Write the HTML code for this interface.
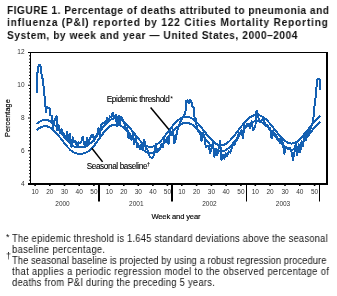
<!DOCTYPE html>
<html><head><meta charset="utf-8">
<style>
html,body{margin:0;padding:0;background:#fff;}
body{width:337px;height:296px;position:relative;overflow:hidden;font-family:"Liberation Sans",sans-serif;color:#000;}
.t{position:absolute;left:7px;width:320px;font-weight:bold;font-size:11px;line-height:12px;white-space:nowrap;color:#111;}
.j{text-align:justify;text-align-last:justify;white-space:normal;}
.f{position:absolute;left:12px;width:400px;font-size:10px;line-height:11px;white-space:nowrap;color:#111;}
.s{position:absolute;font-size:7px;line-height:7px;color:#111;}
svg{position:absolute;left:0;top:0;}
.t,.f,.s,svg{will-change:transform;}
</style></head><body>
<div class="t" style="top:4px;transform:scaleX(0.92);transform-origin:0 0;letter-spacing:0.53px">FIGURE 1. Percentage of deaths attributed to pneumonia and</div>
<div class="t" style="top:16px;transform:scaleX(0.92);transform-origin:0 0;letter-spacing:0.885px">influenza (P&amp;I) reported by 122 Cities Mortality Reporting</div>
<div class="t" style="top:29px;transform:scaleX(0.92);transform-origin:0 0;letter-spacing:0.615px">System, by week and year — United States, 2000–2004</div>
<svg width="337" height="296" viewBox="0 0 337 296">
<g font-family="Liberation Sans, sans-serif" font-size="6.5" fill="#333"><text x="24.5" y="186.1" text-anchor="end">4</text><text x="24.5" y="153.2" text-anchor="end">6</text><text x="24.5" y="120.2" text-anchor="end">8</text><text x="24.5" y="87.2" text-anchor="end">10</text><text x="24.5" y="54.3" text-anchor="end">12</text><text x="35.1" y="193.5" text-anchor="middle">10</text><text x="49.8" y="193.5" text-anchor="middle">20</text><text x="64.5" y="193.5" text-anchor="middle">30</text><text x="79.2" y="193.5" text-anchor="middle">40</text><text x="93.9" y="193.5" text-anchor="middle">50</text><text x="62.5" y="206" text-anchor="middle">2000</text><text x="109.3" y="193.5" text-anchor="middle">10</text><text x="123.8" y="193.5" text-anchor="middle">20</text><text x="138.3" y="193.5" text-anchor="middle">30</text><text x="152.9" y="193.5" text-anchor="middle">40</text><text x="167.4" y="193.5" text-anchor="middle">50</text><text x="136.3" y="206" text-anchor="middle">2001</text><text x="181.8" y="193.5" text-anchor="middle">10</text><text x="196.6" y="193.5" text-anchor="middle">20</text><text x="211.4" y="193.5" text-anchor="middle">30</text><text x="226.1" y="193.5" text-anchor="middle">40</text><text x="240.9" y="193.5" text-anchor="middle">50</text><text x="209.4" y="206" text-anchor="middle">2002</text><text x="255.3" y="193.5" text-anchor="middle">10</text><text x="270.1" y="193.5" text-anchor="middle">20</text><text x="285.0" y="193.5" text-anchor="middle">30</text><text x="299.8" y="193.5" text-anchor="middle">40</text><text x="314.6" y="193.5" text-anchor="middle">50</text><text x="283.0" y="206" text-anchor="middle">2003</text></g>
<line x1="28" y1="52.5" x2="328" y2="52.5" stroke="#000" stroke-width="1"/><line x1="327" y1="52" x2="327" y2="185" stroke="#000" stroke-width="2"/><line x1="28" y1="184" x2="328" y2="184" stroke="#000" stroke-width="2"/><line x1="30.5" y1="52" x2="30.5" y2="185" stroke="#000" stroke-width="1"/><line x1="28" y1="183.50" x2="30" y2="183.50" stroke="#000" stroke-width="1"/><line x1="29" y1="180.22" x2="30" y2="180.22" stroke="#000" stroke-width="1"/><line x1="29" y1="176.95" x2="30" y2="176.95" stroke="#000" stroke-width="1"/><line x1="29" y1="173.68" x2="30" y2="173.68" stroke="#000" stroke-width="1"/><line x1="29" y1="170.40" x2="30" y2="170.40" stroke="#000" stroke-width="1"/><line x1="29" y1="167.12" x2="30" y2="167.12" stroke="#000" stroke-width="1"/><line x1="29" y1="163.85" x2="30" y2="163.85" stroke="#000" stroke-width="1"/><line x1="29" y1="160.57" x2="30" y2="160.57" stroke="#000" stroke-width="1"/><line x1="29" y1="157.30" x2="30" y2="157.30" stroke="#000" stroke-width="1"/><line x1="29" y1="154.03" x2="30" y2="154.03" stroke="#000" stroke-width="1"/><line x1="28" y1="150.75" x2="30" y2="150.75" stroke="#000" stroke-width="1"/><line x1="29" y1="147.47" x2="30" y2="147.47" stroke="#000" stroke-width="1"/><line x1="29" y1="144.20" x2="30" y2="144.20" stroke="#000" stroke-width="1"/><line x1="29" y1="140.93" x2="30" y2="140.93" stroke="#000" stroke-width="1"/><line x1="29" y1="137.65" x2="30" y2="137.65" stroke="#000" stroke-width="1"/><line x1="29" y1="134.38" x2="30" y2="134.38" stroke="#000" stroke-width="1"/><line x1="29" y1="131.10" x2="30" y2="131.10" stroke="#000" stroke-width="1"/><line x1="29" y1="127.82" x2="30" y2="127.82" stroke="#000" stroke-width="1"/><line x1="29" y1="124.55" x2="30" y2="124.55" stroke="#000" stroke-width="1"/><line x1="29" y1="121.27" x2="30" y2="121.27" stroke="#000" stroke-width="1"/><line x1="28" y1="118.00" x2="30" y2="118.00" stroke="#000" stroke-width="1"/><line x1="29" y1="114.73" x2="30" y2="114.73" stroke="#000" stroke-width="1"/><line x1="29" y1="111.45" x2="30" y2="111.45" stroke="#000" stroke-width="1"/><line x1="29" y1="108.17" x2="30" y2="108.17" stroke="#000" stroke-width="1"/><line x1="29" y1="104.90" x2="30" y2="104.90" stroke="#000" stroke-width="1"/><line x1="29" y1="101.62" x2="30" y2="101.62" stroke="#000" stroke-width="1"/><line x1="29" y1="98.35" x2="30" y2="98.35" stroke="#000" stroke-width="1"/><line x1="29" y1="95.07" x2="30" y2="95.07" stroke="#000" stroke-width="1"/><line x1="29" y1="91.80" x2="30" y2="91.80" stroke="#000" stroke-width="1"/><line x1="29" y1="88.52" x2="30" y2="88.52" stroke="#000" stroke-width="1"/><line x1="28" y1="85.25" x2="30" y2="85.25" stroke="#000" stroke-width="1"/><line x1="29" y1="81.98" x2="30" y2="81.98" stroke="#000" stroke-width="1"/><line x1="29" y1="78.70" x2="30" y2="78.70" stroke="#000" stroke-width="1"/><line x1="29" y1="75.42" x2="30" y2="75.42" stroke="#000" stroke-width="1"/><line x1="29" y1="72.15" x2="30" y2="72.15" stroke="#000" stroke-width="1"/><line x1="29" y1="68.88" x2="30" y2="68.88" stroke="#000" stroke-width="1"/><line x1="29" y1="65.60" x2="30" y2="65.60" stroke="#000" stroke-width="1"/><line x1="29" y1="62.32" x2="30" y2="62.32" stroke="#000" stroke-width="1"/><line x1="29" y1="59.05" x2="30" y2="59.05" stroke="#000" stroke-width="1"/><line x1="29" y1="55.77" x2="30" y2="55.77" stroke="#000" stroke-width="1"/><line x1="28" y1="52.50" x2="30" y2="52.50" stroke="#000" stroke-width="1"/><line x1="35.1" y1="185" x2="35.1" y2="186" stroke="#000" stroke-width="1.6"/><line x1="49.8" y1="185" x2="49.8" y2="186" stroke="#000" stroke-width="1.6"/><line x1="64.5" y1="185" x2="64.5" y2="186" stroke="#000" stroke-width="1.6"/><line x1="79.2" y1="185" x2="79.2" y2="186" stroke="#000" stroke-width="1.6"/><line x1="93.9" y1="185" x2="93.9" y2="186" stroke="#000" stroke-width="1.6"/><line x1="109.3" y1="185" x2="109.3" y2="186" stroke="#000" stroke-width="1.6"/><line x1="123.8" y1="185" x2="123.8" y2="186" stroke="#000" stroke-width="1.6"/><line x1="138.3" y1="185" x2="138.3" y2="186" stroke="#000" stroke-width="1.6"/><line x1="152.9" y1="185" x2="152.9" y2="186" stroke="#000" stroke-width="1.6"/><line x1="167.4" y1="185" x2="167.4" y2="186" stroke="#000" stroke-width="1.6"/><line x1="181.8" y1="185" x2="181.8" y2="186" stroke="#000" stroke-width="1.6"/><line x1="196.6" y1="185" x2="196.6" y2="186" stroke="#000" stroke-width="1.6"/><line x1="211.4" y1="185" x2="211.4" y2="186" stroke="#000" stroke-width="1.6"/><line x1="226.1" y1="185" x2="226.1" y2="186" stroke="#000" stroke-width="1.6"/><line x1="240.9" y1="185" x2="240.9" y2="186" stroke="#000" stroke-width="1.6"/><line x1="255.3" y1="185" x2="255.3" y2="186" stroke="#000" stroke-width="1.6"/><line x1="270.1" y1="185" x2="270.1" y2="186" stroke="#000" stroke-width="1.6"/><line x1="285.0" y1="185" x2="285.0" y2="186" stroke="#000" stroke-width="1.6"/><line x1="299.8" y1="185" x2="299.8" y2="186" stroke="#000" stroke-width="1.6"/><line x1="314.6" y1="185" x2="314.6" y2="186" stroke="#000" stroke-width="1.6"/><line x1="99" y1="184" x2="99" y2="201.5" stroke="#000" stroke-width="2"/><line x1="172" y1="184" x2="172" y2="201.5" stroke="#000" stroke-width="2"/><line x1="246.5" y1="184" x2="246.5" y2="201.5" stroke="#000" stroke-width="1"/><line x1="319.5" y1="184" x2="319.5" y2="201.5" stroke="#000" stroke-width="1"/>
<g fill="none" stroke="#1460b2" stroke-width="2" stroke-linejoin="round" stroke-linecap="butt" shape-rendering="crispEdges">
<path d="M36.4,124.1 L37.4,123.2 L38.4,122.5 L39.4,121.8 L40.4,121.3 L41.4,120.8 L42.4,120.4 L43.4,120.2 L44.4,120.0 L45.4,120.0 L46.4,120.1 L47.4,120.3 L48.4,120.5 L49.4,120.9 L50.4,121.5 L51.4,122.2 L52.4,123.0 L53.4,123.9 L54.4,124.9 L55.4,125.9 L56.4,127.0 L57.4,128.2 L58.4,129.3 L59.4,130.6 L60.4,131.8 L61.4,133.1 L62.4,134.4 L63.4,135.7 L64.4,137.0 L65.4,138.2 L66.4,139.4 L67.4,140.6 L68.4,141.7 L69.4,142.8 L70.4,143.8 L71.4,144.7 L72.4,145.5 L73.4,146.1 L74.4,146.6 L75.4,146.9 L76.4,147.2 L77.4,147.4 L78.4,147.4 L79.4,147.3 L80.4,147.3 L81.4,147.4 L82.4,147.4 L83.4,147.3 L84.4,147.0 L85.4,146.7 L86.4,146.2 L87.4,145.6 L88.4,145.0 L89.4,144.1 L90.4,143.3 L91.4,142.3 L92.4,141.3 L93.4,140.2 L94.4,139.1 L95.4,137.8 L96.4,136.4 L97.4,135.0 L98.4,133.6 L99.4,132.1 L100.4,130.8 L101.4,129.4 L102.4,128.1 L103.4,126.8 L104.4,125.6 L105.4,124.4 L106.4,123.3 L107.4,122.3 L108.4,121.4 L109.4,120.5 L110.4,119.8 L111.4,119.3 L112.4,118.9 L113.4,118.6 L114.4,118.4 L115.4,118.3 L116.4,118.3 L117.4,118.5 L118.4,118.7 L119.4,119.0 L120.4,119.5 L121.4,120.0 L122.4,120.7 L123.4,121.4 L124.4,122.2 L125.4,123.1 L126.4,124.1 L127.4,125.2 L128.4,126.3 L129.4,127.4 L130.4,128.7 L131.4,129.9 L132.4,131.2 L133.4,132.5 L134.4,133.7 L135.4,135.0 L136.4,136.3 L137.4,137.5 L138.4,138.7 L139.4,139.9 L140.4,141.0 L141.4,142.0 L142.4,143.0 L143.4,143.8 L144.4,144.6 L145.4,145.3 L146.4,145.8 L147.4,146.3 L148.4,146.6 L149.4,146.8 L150.4,146.9 L151.4,146.9 L152.4,146.7 L153.4,146.4 L154.4,146.0 L155.4,145.5 L156.4,144.8 L157.4,144.1 L158.4,143.2 L159.4,142.3 L160.4,141.3 L161.4,140.2 L162.4,139.0 L163.4,137.8 L164.4,136.5 L165.4,135.2 L166.4,133.9 L167.4,132.6 L168.4,131.2 L169.4,129.9 L170.4,128.6 L171.4,127.3 L172.4,126.1 L173.4,124.9 L174.4,123.7 L175.4,122.6 L176.4,121.6 L177.4,120.7 L178.4,119.9 L179.4,119.1 L180.4,118.4 L181.4,117.9 L182.4,117.4 L183.4,117.0 L184.4,116.8 L185.4,116.7 L186.4,116.6 L187.4,116.7 L188.4,116.9 L189.4,117.2 L190.4,117.6 L191.4,118.1 L192.4,118.6 L193.4,119.3 L194.4,120.1 L195.4,121.0 L196.4,121.9 L197.4,122.9 L198.4,124.0 L199.4,125.2 L200.4,126.4 L201.4,127.6 L202.4,128.8 L203.4,130.1 L204.4,131.4 L205.4,132.7 L206.4,134.0 L207.4,135.2 L208.4,136.5 L209.4,137.6 L210.4,138.8 L211.4,139.8 L212.4,140.8 L213.4,141.7 L214.4,142.6 L215.4,143.3 L216.4,143.9 L217.4,144.4 L218.4,144.8 L219.4,145.0 L220.4,145.2 L221.4,145.2 L222.4,145.1 L223.4,144.9 L224.4,144.5 L225.4,144.0 L226.4,143.5 L227.4,142.8 L228.4,142.0 L229.4,141.1 L230.4,140.1 L231.4,139.0 L232.4,137.9 L233.4,136.7 L234.4,135.5 L235.4,134.2 L236.4,132.9 L237.4,131.5 L238.4,130.2 L239.4,128.9 L240.4,127.5 L241.4,126.2 L242.4,125.0 L243.4,123.8 L244.4,122.6 L245.4,121.5 L246.4,120.4 L247.4,119.5 L248.4,118.6 L249.4,117.8 L250.4,117.1 L251.4,116.4 L252.4,115.9 L253.4,115.5 L254.4,115.2 L255.4,115.0 L256.4,114.9 L257.4,114.9 L258.4,115.1 L259.4,115.3 L260.4,115.7 L261.4,116.1 L262.4,116.6 L263.4,117.3 L264.4,118.0 L265.4,118.8 L266.4,119.8 L267.4,120.7 L268.4,121.8 L269.4,122.9 L270.4,124.1 L271.4,125.3 L272.4,126.5 L273.4,127.8 L274.4,129.1 L275.4,130.4 L276.4,131.7 L277.4,132.9 L278.4,134.2 L279.4,135.4 L280.4,136.5 L281.4,137.6 L282.4,138.6 L283.4,139.6 L284.4,140.5 L285.4,141.2 L286.4,141.9 L287.4,142.5 L288.4,142.9 L289.4,143.2 L290.4,143.4 L291.4,143.5 L292.4,143.5 L293.4,143.3 L294.4,143.0 L295.4,142.6 L296.4,142.1 L297.4,141.4 L298.4,140.7 L299.4,139.8 L300.4,138.9 L301.4,137.9 L302.4,136.8 L303.4,135.6 L304.4,134.4 L305.4,133.1 L306.4,131.8 L307.4,130.5 L308.4,129.2 L309.4,127.8 L310.4,126.5 L311.4,125.2 L312.4,123.9 L313.4,122.7 L314.4,121.5 L315.4,120.3 L316.4,119.3 L317.4,118.2 L318.4,117.3 L319.4,116.5 L320.4,115.7"/>
<path d="M36.4,130.3 L37.4,129.4 L38.4,128.7 L39.4,128.0 L40.4,127.5 L41.4,127.0 L42.4,126.6 L43.4,126.4 L44.4,126.2 L45.4,126.2 L46.4,126.3 L47.4,126.5 L48.4,126.7 L49.4,127.1 L50.4,127.7 L51.4,128.4 L52.4,129.2 L53.4,130.1 L54.4,131.1 L55.4,132.1 L56.4,133.2 L57.4,134.4 L58.4,135.5 L59.4,136.8 L60.4,138.0 L61.4,139.3 L62.4,140.6 L63.4,141.9 L64.4,143.2 L65.4,144.4 L66.4,145.6 L67.4,146.8 L68.4,147.9 L69.4,149.0 L70.4,150.0 L71.4,150.9 L72.4,151.7 L73.4,152.3 L74.4,152.8 L75.4,153.1 L76.4,153.4 L77.4,153.6 L78.4,153.6 L79.4,153.5 L80.4,153.5 L81.4,153.6 L82.4,153.6 L83.4,153.5 L84.4,153.2 L85.4,152.9 L86.4,152.4 L87.4,151.8 L88.4,151.2 L89.4,150.3 L90.4,149.5 L91.4,148.5 L92.4,147.5 L93.4,146.4 L94.4,145.3 L95.4,144.0 L96.4,142.6 L97.4,141.2 L98.4,139.8 L99.4,138.3 L100.4,137.0 L101.4,135.6 L102.4,134.3 L103.4,133.0 L104.4,131.8 L105.4,130.6 L106.4,129.5 L107.4,128.5 L108.4,127.6 L109.4,126.7 L110.4,126.0 L111.4,125.5 L112.4,125.1 L113.4,124.8 L114.4,124.6 L115.4,124.5 L116.4,124.5 L117.4,124.7 L118.4,124.9 L119.4,125.2 L120.4,125.7 L121.4,126.2 L122.4,126.9 L123.4,127.6 L124.4,128.4 L125.4,129.3 L126.4,130.3 L127.4,131.4 L128.4,132.5 L129.4,133.6 L130.4,134.9 L131.4,136.1 L132.4,137.4 L133.4,138.7 L134.4,139.9 L135.4,141.2 L136.4,142.5 L137.4,143.7 L138.4,144.9 L139.4,146.1 L140.4,147.2 L141.4,148.2 L142.4,149.2 L143.4,150.0 L144.4,150.8 L145.4,151.5 L146.4,152.0 L147.4,152.5 L148.4,152.8 L149.4,153.0 L150.4,153.1 L151.4,153.1 L152.4,152.9 L153.4,152.6 L154.4,152.2 L155.4,151.7 L156.4,151.0 L157.4,150.3 L158.4,149.4 L159.4,148.5 L160.4,147.5 L161.4,146.4 L162.4,145.2 L163.4,144.0 L164.4,142.7 L165.4,141.4 L166.4,140.1 L167.4,138.8 L168.4,137.4 L169.4,136.1 L170.4,134.8 L171.4,133.5 L172.4,132.3 L173.4,131.1 L174.4,129.9 L175.4,128.8 L176.4,127.8 L177.4,126.9 L178.4,126.1 L179.4,125.3 L180.4,124.6 L181.4,124.1 L182.4,123.6 L183.4,123.2 L184.4,123.0 L185.4,122.9 L186.4,122.8 L187.4,122.9 L188.4,123.1 L189.4,123.4 L190.4,123.8 L191.4,124.3 L192.4,124.8 L193.4,125.5 L194.4,126.3 L195.4,127.2 L196.4,128.1 L197.4,129.1 L198.4,130.2 L199.4,131.4 L200.4,132.6 L201.4,133.8 L202.4,135.0 L203.4,136.3 L204.4,137.6 L205.4,138.9 L206.4,140.2 L207.4,141.4 L208.4,142.7 L209.4,143.8 L210.4,145.0 L211.4,146.0 L212.4,147.0 L213.4,147.9 L214.4,148.8 L215.4,149.5 L216.4,150.1 L217.4,150.6 L218.4,151.0 L219.4,151.2 L220.4,151.4 L221.4,151.4 L222.4,151.3 L223.4,151.1 L224.4,150.7 L225.4,150.2 L226.4,149.7 L227.4,149.0 L228.4,148.2 L229.4,147.3 L230.4,146.3 L231.4,145.2 L232.4,144.1 L233.4,142.9 L234.4,141.7 L235.4,140.4 L236.4,139.1 L237.4,137.7 L238.4,136.4 L239.4,135.1 L240.4,133.7 L241.4,132.4 L242.4,131.2 L243.4,130.0 L244.4,128.8 L245.4,127.7 L246.4,126.6 L247.4,125.7 L248.4,124.8 L249.4,124.0 L250.4,123.3 L251.4,122.6 L252.4,122.1 L253.4,121.7 L254.4,121.4 L255.4,121.2 L256.4,121.1 L257.4,121.1 L258.4,121.3 L259.4,121.5 L260.4,121.9 L261.4,122.3 L262.4,122.8 L263.4,123.5 L264.4,124.2 L265.4,125.0 L266.4,126.0 L267.4,126.9 L268.4,128.0 L269.4,129.1 L270.4,130.3 L271.4,131.5 L272.4,132.7 L273.4,134.0 L274.4,135.3 L275.4,136.6 L276.4,137.9 L277.4,139.1 L278.4,140.4 L279.4,141.6 L280.4,142.7 L281.4,143.8 L282.4,144.8 L283.4,145.8 L284.4,146.7 L285.4,147.4 L286.4,148.1 L287.4,148.7 L288.4,149.1 L289.4,149.4 L290.4,149.6 L291.4,149.7 L292.4,149.7 L293.4,149.5 L294.4,149.2 L295.4,148.8 L296.4,148.3 L297.4,147.6 L298.4,146.9 L299.4,146.0 L300.4,145.1 L301.4,144.1 L302.4,143.0 L303.4,141.8 L304.4,140.6 L305.4,139.3 L306.4,138.0 L307.4,136.7 L308.4,135.4 L309.4,134.0 L310.4,132.7 L311.4,131.4 L312.4,130.1 L313.4,128.9 L314.4,127.7 L315.4,126.5 L316.4,125.5 L317.4,124.4 L318.4,123.5 L319.4,122.7 L320.4,121.9"/>
<path d="M36.9,93.4 L36.9,75.5 L37.6,72.0 L37.8,67.0 L39.0,65.2 L40.0,65.2 L41.0,68.0 L41.2,72.0 L42.5,78.5 L43.6,87.0 L44.6,96.5 L45.3,105.5 L46.1,112.5 L46.5,107.0 L50.2,108.6 L50.3,115.0 L52.0,116.0 L53.2,128.5 L54.3,121.0 L56.6,116.5 L56.8,130.5 L58.5,124.7 L59.9,132.7 L61.4,129.3 L62.8,132.7 L64.2,134.6 L65.7,139.2 L67.1,131.8 L68.5,140.7 L69.9,133.7 L71.4,146.9 L72.8,137.2 L74.2,142.2 L75.7,141.3 L77.1,147.2 L78.5,142.5 L80.0,143.3 L81.4,141.3 L82.8,136.6 L84.2,144.4 L85.7,145.6 L87.1,137.5 L88.5,143.3 L90.0,138.5 L91.4,135.6 L92.8,135.1 L94.3,141.1 L95.7,135.9 L97.1,135.9 L98.5,127.7 L100.0,134.9 L101.4,124.9 L102.8,123.6 L104.3,122.2 L105.7,123.3 L107.1,117.5 L108.6,120.6 L110.0,116.4 L111.4,117.3 L112.8,112.7 L114.3,117.6 L115.7,114.8 L117.1,126.5 L118.6,115.8 L120.0,123.7 L121.4,116.8 L122.9,120.0 L124.3,122.5 L125.7,129.2 L127.1,127.4 L128.6,138.3 L130.0,133.6 L131.4,140.0 L132.9,134.2 L134.3,143.9 L135.7,137.9 L137.2,147.4 L138.6,146.0 L140.0,148.8 L141.4,144.1 L142.9,150.2 L144.3,140.0 L145.7,148.5 L147.2,149.3 L148.6,153.6 L150.0,157.0 L151.5,157.7 L152.9,157.5 L154.3,154.4 L155.7,144.0 L157.2,151.7 L158.6,150.0 L160.0,148.6 L161.5,143.8 L162.9,146.8 L164.3,139.2 L165.8,142.4 L167.2,137.3 L168.6,144.0 L170.0,130.7 L171.5,135.4 L172.9,129.3 L174.3,143.3 L175.8,139.3 L176.9,132.0 L179.0,125.0 L181.3,120.0 L183.2,117.0 L185.3,113.0 L186.0,107.0 L186.3,101.0 L187.5,100.0 L189.0,103.5 L190.2,100.0 L191.5,102.5 L192.3,106.5 L193.8,107.6 L193.8,116.0 L195.7,119.0 L197.2,129.6 L198.6,132.3 L200.1,132.4 L201.5,140.8 L202.9,132.7 L204.4,136.0 L205.8,147.0 L207.2,146.3 L208.7,145.7 L210.1,153.3 L211.5,148.0 L212.9,143.3 L214.4,157.0 L215.8,149.2 L217.2,155.2 L218.7,148.1 L220.1,141.3 L221.5,160.0 L223.0,155.0 L224.4,158.8 L225.8,153.4 L227.2,156.4 L228.7,151.5 L230.1,152.7 L231.5,149.4 L233.0,142.6 L234.4,145.3 L235.8,140.8 L237.3,139.9 L238.7,132.9 L240.1,134.0 L241.5,130.1 L243.0,138.3 L244.4,125.1 L245.8,127.0 L247.3,123.5 L248.7,123.5 L250.1,128.5 L251.6,121.3 L253.0,130.4 L254.4,128.5 L255.5,125.0 L255.8,113.0 L257.0,110.5 L258.3,116.0 L258.7,119.0 L260.1,120.9 L261.6,120.6 L263.0,118.2 L264.4,121.3 L265.9,126.2 L267.3,125.0 L268.7,128.4 L270.1,127.8 L271.6,138.3 L273.0,130.5 L274.4,135.9 L275.9,134.3 L277.3,138.5 L278.7,138.7 L280.2,143.1 L281.6,137.5 L283.0,144.4 L284.4,153.8 L285.9,146.8 L287.3,147.8 L288.7,148.9 L290.2,147.9 L291.6,152.6 L293.0,159.8 L294.5,152.0 L295.9,143.1 L297.3,155.0 L298.7,144.4 L300.2,152.5 L301.6,141.0 L303.0,146.3 L304.5,133.2 L305.9,140.1 L307.3,130.9 L308.2,135.0 L311.0,127.0 L313.0,122.2 L314.2,110.0 L314.8,102.4 L316.0,94.5 L316.8,83.0 L317.6,78.8 L319.4,78.8 L320.2,81.0 L320.2,90.2"/>
</g>
<line x1="150.6" y1="107.5" x2="168.9" y2="129.6" stroke="#000" stroke-width="1.5"/>
<line x1="91.9" y1="148.3" x2="102.6" y2="161.9" stroke="#000" stroke-width="1.5"/>
<g font-family="Liberation Sans, sans-serif" fill="#000">
<text x="106.7" y="102.2" font-size="8.2" letter-spacing="-0.38" stroke="#000" stroke-width="0.12">Epidemic threshold</text>
<text x="170.2" y="100.8" font-size="7">*</text>
<text x="86.7" y="168.5" font-size="8.2" letter-spacing="-0.38" stroke="#000" stroke-width="0.12">Seasonal baseline</text>
<text x="146.9" y="166" font-size="5.5" stroke="#000" stroke-width="0.12">†</text>
<text x="151.4" y="219" font-size="7.6" letter-spacing="-0.15" stroke="#000" stroke-width="0.15">Week and year</text>
<text transform="translate(10,137) rotate(-90)" font-size="7.2" letter-spacing="0.1" stroke="#000" stroke-width="0.18">Percentage</text>
</g>
</svg>
<div class="s" style="left:6px;top:234px;font-size:9px">*</div>
<div class="f" style="top:233px;left:12px;transform:scaleX(0.93);transform-origin:0 0;letter-spacing:0.27px">The epidemic threshold is 1.645 standard deviations above the seasonal</div>
<div class="f" style="top:244px;left:12px;transform:scaleX(0.93);transform-origin:0 0;letter-spacing:0.38px">baseline percentage.</div>
<div class="s" style="left:6px;top:251.5px;font-size:9px;line-height:9px">†</div>
<div class="f" style="top:255px;left:12.3px;transform:scaleX(0.93);transform-origin:0 0;letter-spacing:0.11px">The seasonal baseline is projected by using a robust regression procedure</div>
<div class="f" style="top:266px;left:12px;transform:scaleX(0.93);transform-origin:0 0;letter-spacing:0.41px">that applies a periodic regression model to the observed percentage of</div>
<div class="f" style="top:277px;left:12px;transform:scaleX(0.93);transform-origin:0 0;letter-spacing:0.32px">deaths from P&amp;I during the preceding 5 years.</div>
</body></html>
